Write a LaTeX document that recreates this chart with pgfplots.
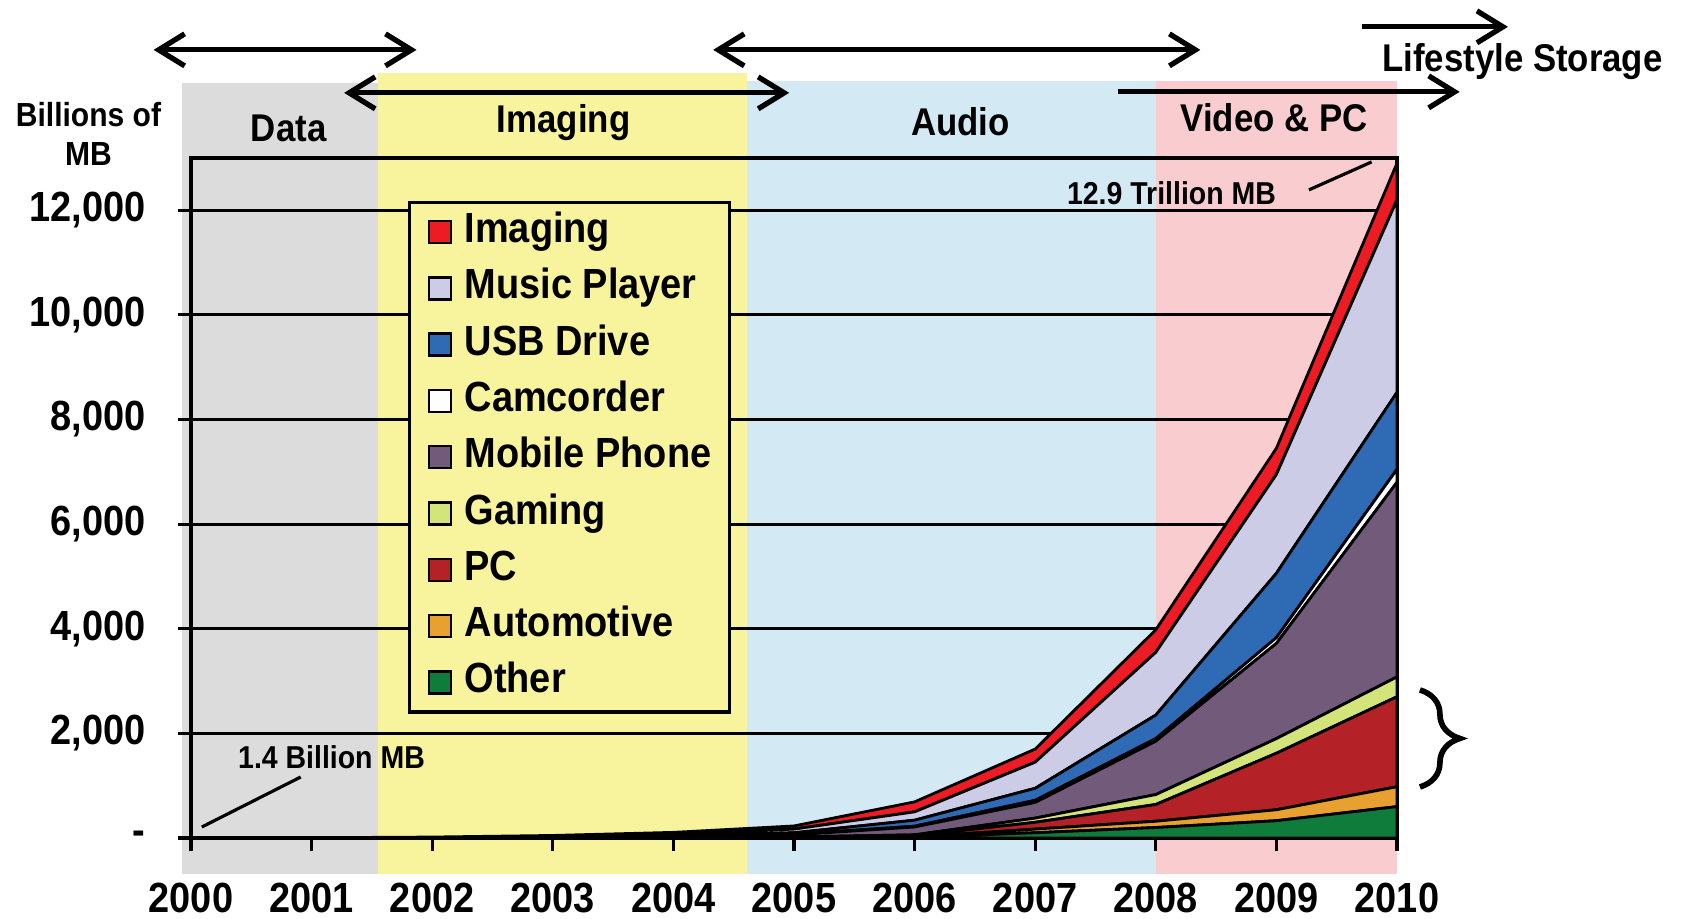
\documentclass[border=0pt]{standalone}
\usepackage{pgfplots}
\pgfplotsset{compat=1.18}
\usepackage{pgfplotstable}
\usetikzlibrary{arrows.meta,decorations.pathreplacing}
\usepackage{fontspec}
\setmainfont{Liberation Sans}[FakeStretch=0.9]

\definecolor{cGrayBand}{RGB}{220,220,220}
\definecolor{cYellowBand}{RGB}{248,243,157}
\definecolor{cBlueBand}{RGB}{211,234,244}
\definecolor{cPinkBand}{RGB}{249,205,208}
\definecolor{cImaging}{RGB}{237,28,36}
\definecolor{cMusic}{RGB}{204,204,230}
\definecolor{cUSB}{RGB}{47,106,180}
\definecolor{cMobile}{RGB}{114,91,122}
\definecolor{cGaming}{RGB}{210,228,122}
\definecolor{cPC}{RGB}{180,34,40}
\definecolor{cAuto}{RGB}{232,160,48}
\definecolor{cOther}{RGB}{16,124,60}

% billions of MB per year, one column per device class (stacked bottom to top)
\pgfplotstableread{
year other automotive pc gaming mobile camcorder usb music imaging
2000 0   0   0    0   0    0   0    0    1.4
2001 0   0   0    0   0.5  0   0    1    3
2002 0   0   0    0   2    0.5 1    4    10
2003 0   0   1    1   6    1   4    10   25
2004 1   1   3    3   15   2   12   25   45
2005 2   3   5    10  40   10  30   70   60
2006 10  10  20   20  150  15  115  160  190
2007 100 70  130  80  300  40  230  500  250
2008 200 120 320  190 1020 50  450  1200 430
2009 330 210 1080 280 1820 110 1230 1890 500
2010 600 380 1720 380 3720 250 1470 3680 700
}\storage

\tikzset{
  phase/.style={line width=1.5pt, black},
  barb/.style={-{Straight Barb[length=2.6mm,width=3.2mm]}},
  dbarb/.style={{Straight Barb[length=2.6mm,width=3.2mm]}-{Straight Barb[length=2.6mm,width=3.2mm]}},
}
\pgfplotsset{frame/.style={scale only axis, width=12.06cm, height=6.8cm,
  at={(0,0)}, anchor=south west,
  xmin=2000, xmax=2010, ymin=0, ymax=13000, clip=false}}

\begin{document}
\begin{tikzpicture}
% background phase bands
\begin{axis}[frame, hide axis]
  \fill[cGrayBand] (axis cs:1999.925,-690) rectangle (axis cs:2001.55,14440);
  \fill[cYellowBand] (axis cs:2001.55,-690) rectangle (axis cs:2004.61,14630);
  \fill[cBlueBand] (axis cs:2004.61,-690) rectangle (axis cs:2008.0,14470);
  \fill[cPinkBand] (axis cs:2008.0,-690) rectangle (axis cs:2010,14480);
\end{axis}
\begin{axis}[
  frame,
  stack plots=y,
  scaled ticks=false,
  axis line style={line width=0.9pt, black},
  tick align=outside,
  major tick length=1.3mm,
  tick style={line width=0.9pt, black},
  xtick={2000,2001,...,2010},
  xticklabels={2000,2001,2002,2003,2004,2005,2006,2007,2008,2009,2010},
  ytick={0,2000,4000,6000,8000,10000,12000},
  yticklabels={{-},{2,000},{4,000},{6,000},{8,000},{10,000},{12,000}},
  xtick pos=bottom, ytick pos=left,
  ymajorgrids, major grid style={line width=0.8pt, black},
  ticklabel style={font=\fontsize{12}{14}\selectfont\bfseries},
  xticklabel style={yshift=-2mm},
  yticklabel style={xshift=-2mm},
  reverse legend,
  legend image code/.code={\draw[#1, draw=black, line width=0.7pt] (0cm,-0.11cm) rectangle (0.22cm,0.11cm);},
  legend style={at={(0.18,0.9368)}, anchor=north west, fill=cYellowBand, draw=black,
    line width=0.9pt, font=\fontsize{12}{14}\selectfont\bfseries,
    inner xsep=1.8mm, inner ysep=0.85mm, row sep=1.41mm,
    nodes={inner sep=0pt, text height=9pt, text depth=3pt},
    cells={anchor=west},
    /tikz/every odd column/.append style={column sep=1.25mm}},
]
\addplot[fill=cOther, draw=black, line width=0.8pt] table[x=year, y=other] {\storage} \closedcycle;
\addlegendentry{Other}
\addplot[fill=cAuto, draw=black, line width=0.8pt] table[x=year, y=automotive] {\storage} \closedcycle;
\addlegendentry{Automotive}
\addplot[fill=cPC, draw=black, line width=0.8pt] table[x=year, y=pc] {\storage} \closedcycle;
\addlegendentry{PC}
\addplot[fill=cGaming, draw=black, line width=0.8pt] table[x=year, y=gaming] {\storage} \closedcycle;
\addlegendentry{Gaming}
\addplot[fill=cMobile, draw=black, line width=0.8pt] table[x=year, y=mobile] {\storage} \closedcycle;
\addlegendentry{Mobile Phone}
\addplot[fill=white, draw=black, line width=0.8pt] table[x=year, y=camcorder] {\storage} \closedcycle;
\addlegendentry{Camcorder}
\addplot[fill=cUSB, draw=black, line width=0.8pt] table[x=year, y=usb] {\storage} \closedcycle;
\addlegendentry{USB Drive}
\addplot[fill=cMusic, draw=black, line width=0.8pt] table[x=year, y=music] {\storage} \closedcycle;
\addlegendentry{Music Player}
\addplot[fill=cImaging, draw=black, line width=0.8pt] table[x=year, y=imaging] {\storage} \closedcycle;
\addlegendentry{Imaging}

% phase arrows
\draw[phase, dbarb] (axis cs:1999.69,15067) -- (axis cs:2001.87,15067);
\draw[phase, dbarb] (axis cs:2001.27,14245) -- (axis cs:2004.96,14245);
\draw[phase, dbarb] (axis cs:2004.33,15067) -- (axis cs:2008.37,15067);
\draw[phase, barb] (axis cs:2007.69,14264) -- (axis cs:2010.52,14264);
\draw[phase, barb] (axis cs:2009.71,15507) -- (axis cs:2010.92,15507);

% phase labels
\node[font=\fontsize{11}{13}\selectfont\bfseries] at (axis cs:2000.81,13561) {Data};
\node[font=\fontsize{11}{13}\selectfont\bfseries] at (axis cs:2003.09,13671) {Imaging};
\node[font=\fontsize{11}{13}\selectfont\bfseries] at (axis cs:2006.38,13690) {Audio};
\node[font=\fontsize{11}{13}\selectfont\bfseries] at (axis cs:2008.98,13766) {Video \& PC};
\node[font=\fontsize{11}{13}\selectfont\bfseries] at (axis cs:2011.04,14837) {Lifestyle Storage};
\node[font=\fontsize{9.5}{11}\selectfont\bfseries, align=center] at (axis cs:1999.15,13460) {Billions of\\MB};

% callouts
\node[font=\fontsize{9}{11}\selectfont\bfseries] at (axis cs:2008.13,12333) {12.9 Trillion MB};
\draw[line width=0.9pt] (axis cs:2009.27,12390) -- (axis cs:2009.79,12925);
\node[font=\fontsize{9}{11}\selectfont\bfseries] at (axis cs:2001.165,1549) {1.4 Billion MB};
\draw[line width=0.9pt] (axis cs:2000.09,210) -- (axis cs:2000.91,1166);

% brace
\draw[line width=1.6pt, decorate, decoration={brace, amplitude=4mm}] (axis cs:2010.19,2830) -- (axis cs:2010.19,975);
\end{axis}
\pgfresetboundingbox
\useasboundingbox (-1.91,-0.81) rectangle (14.91,8.38);
\end{tikzpicture}
\end{document}
